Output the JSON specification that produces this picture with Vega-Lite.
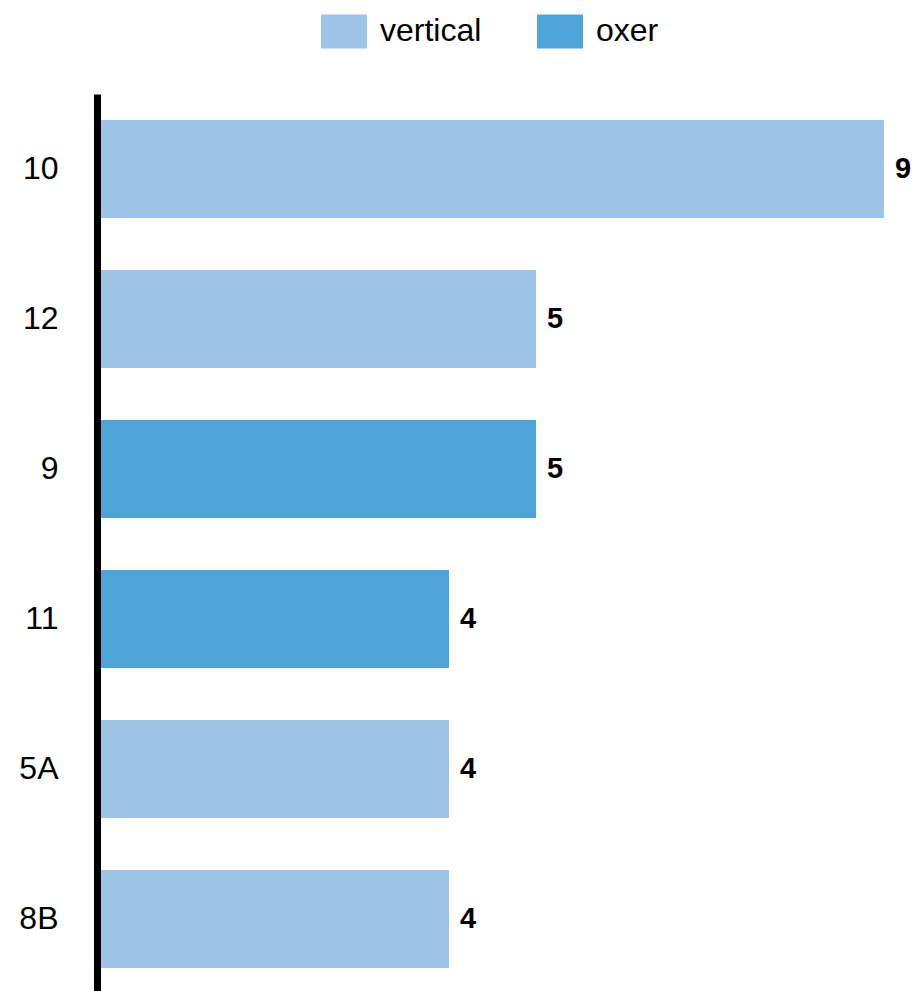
{
  "$schema": "https://vega.github.io/schema/vega-lite/v6.json",
  "autosize": "none",
  "width": 783,
  "height": 897,
  "padding": {"left": 101, "top": 94, "right": 30, "bottom": 0},
  "data": {
    "values": [
      {"jump": "10", "count": 9, "type": "vertical"},
      {"jump": "12", "count": 5, "type": "vertical"},
      {"jump": "9", "count": 5, "type": "oxer"},
      {"jump": "11", "count": 4, "type": "oxer"},
      {"jump": "5A", "count": 4, "type": "vertical"},
      {"jump": "8B", "count": 4, "type": "vertical"}
    ]
  },
  "config": {
    "view": {"stroke": null},
    "font": "Liberation Sans"
  },
  "encoding": {
    "y": {
      "field": "jump",
      "type": "nominal",
      "sort": null,
      "scale": {"range": [0, 900], "paddingInner": 0.3467, "paddingOuter": 0.1733},
      "axis": {
        "title": null,
        "ticks": false,
        "tickSize": 0,
        "domainColor": "#000000",
        "domainWidth": 7,
        "offset": 4,
        "labelPadding": 39,
        "labelFontSize": 32,
        "labelColor": "#000000",
        "labelFont": "Liberation Sans"
      }
    },
    "x": {
      "field": "count",
      "type": "quantitative",
      "scale": {"domain": [0, 9]},
      "axis": null
    }
  },
  "layer": [
    {
      "mark": {"type": "bar"},
      "encoding": {
        "color": {
          "field": "type",
          "type": "nominal",
          "scale": {"domain": ["vertical", "oxer"], "range": ["#9dc3e6", "#4ea3d8"]},
          "legend": {
            "title": null,
            "orient": "none",
            "direction": "horizontal",
            "legendX": 220,
            "legendY": -86,
            "symbolType": "M-1,-0.74H1V0.74H-1Z",
            "symbolSize": 2116,
            "symbolStrokeWidth": 0,
            "symbolOpacity": 1,
            "labelFontSize": 32,
            "labelFont": "Liberation Sans",
            "labelColor": "#000000",
            "labelOffset": 13,
            "columnPadding": 55
          }
        }
      }
    },
    {
      "mark": {"type": "text", "align": "left", "baseline": "middle", "dx": 11, "fontSize": 29, "fontWeight": "bold", "color": "#000000"},
      "encoding": {"text": {"field": "count", "type": "quantitative"}}
    }
  ]
}
